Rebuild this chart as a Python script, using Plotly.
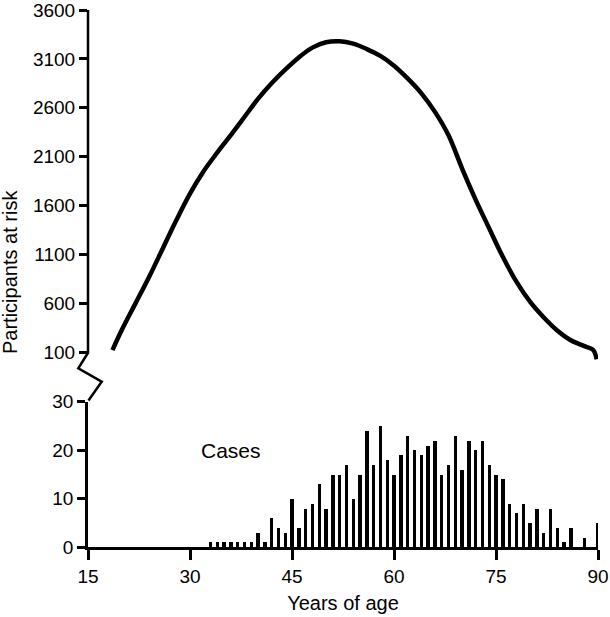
import plotly.graph_objects as go

# ---- data ----
case_years = list(range(33, 91))
case_counts = [1, 1, 1, 1, 1, 1, 1, 3, 1, 6, 4, 3, 10, 4, 8, 9, 13, 8, 15, 15,
               17, 10, 15, 24, 17, 25, 18, 15, 19, 23, 20, 19, 21, 22, 15, 17, 23, 16,
               22, 20, 22, 17, 15, 14, 9, 7, 9, 5, 8, 3, 8, 4, 1, 4, 0, 2, 0, 5]

risk_age = [18.6, 20, 22, 24, 26, 28, 30, 32, 34, 36, 38, 40, 42, 44, 46, 48, 50,
            52, 54, 56, 58, 60, 62, 64, 66, 68, 70, 72, 74, 76, 78, 80, 82, 84,
            86, 88, 89.3, 89.8]
risk_n = [120, 330, 600, 870, 1160, 1450, 1720, 1950, 2140, 2320, 2505, 2690,
          2850, 2990, 3115, 3215, 3270, 3280, 3255, 3200, 3130, 3030, 2900, 2750,
          2560, 2320, 1980, 1660, 1365, 1075, 820, 615, 455, 320, 220, 160, 120, 25]

x_ticks = [15, 30, 45, 60, 75, 90]
top_ticks = [100, 600, 1100, 1600, 2100, 2600, 3100, 3600]
bottom_ticks = [0, 10, 20, 30]

# ---- layout geometry (pixels) ----
W, H = 610, 617
ML, MR, MT, MB = 88, 12, 10, 70
PW, PH = W - ML - MR, H - MT - MB


def px(xp):
    return (xp - ML) / PW


def py(yp):
    return (H - MB - yp) / PH


top_lo_px = 362          # bottom edge of top panel (a little below the 100 line)
y100_px, y3600_px = 352, 10
per_px = (3600 - 100) / (y100_px - y3600_px)
top_range_lo = 100 - (top_lo_px - y100_px) * per_px
bottom_top_px = 401.7

font = "Liberation Sans, Arial, sans-serif"
tickfont = dict(family=font, size=19, color="black")
LW = 2.5

fig = go.Figure()
fig.add_trace(go.Bar(x=case_years, y=case_counts, width=0.5,
                     marker=dict(color="black", line=dict(width=0)),
                     xaxis="x", yaxis="y", cliponaxis=False, showlegend=False))
fig.add_trace(go.Scatter(x=risk_age, y=risk_n, mode="lines",
                         line=dict(color="black", width=4.5, shape="spline", smoothing=1.0),
                         xaxis="x", yaxis="y2", showlegend=False))

zig = [(88.5, 352), (78.3, 368.3), (101.7, 381.7), (88.5, 400.5)]
path = "M " + " L ".join(f"{px(a):.5f},{py(b):.5f}" for a, b in zig)

fig.update_layout(
    width=W, height=H,
    margin=dict(l=ML, r=MR, t=MT, b=MB, autoexpand=False),
    paper_bgcolor="white", plot_bgcolor="white",
    bargap=0,
    xaxis=dict(range=[15, 90], tickvals=x_ticks, ticks="outside", ticklen=10,
               tickwidth=LW, tickcolor="black", showline=True, linewidth=LW,
               linecolor="black", showgrid=False, zeroline=False, anchor="y",
               tickfont=tickfont, automargin=False, ticklabeloverflow="allow",
               title=dict(text="Years of age", font=dict(family=font, size=20, color="black"),
                          standoff=11)),
    yaxis=dict(domain=[0, py(bottom_top_px)], range=[0, 30], tickvals=bottom_ticks,
               ticks="outside", ticklen=8, tickwidth=LW, tickcolor="black",
               showline=True, linewidth=LW, linecolor="black", showgrid=False,
               zeroline=False, tickfont=tickfont, anchor="x", automargin=False,
               ticklabeloverflow="allow"),
    yaxis2=dict(domain=[py(top_lo_px), 1], range=[top_range_lo, 3600], tickvals=top_ticks,
                ticks="outside", ticklen=8, tickwidth=LW, tickcolor="black",
                showline=False, showgrid=False, zeroline=False, tickfont=tickfont,
                anchor="x", automargin=False, ticklabeloverflow="allow"),
    shapes=[
        dict(type="line", xref="paper", yref="y2", x0=0, x1=0, y0=100, y1=3600,
             line=dict(color="black", width=LW), layer="above"),
        dict(type="path", xref="paper", yref="paper", path=path,
             line=dict(color="black", width=LW), layer="above"),
    ],
    annotations=[
        dict(text="Participants at risk", xref="paper", yref="paper",
             x=px(10), y=py(272), xanchor="center", yanchor="middle",
             textangle=-90, showarrow=False,
             font=dict(family=font, size=20, color="black")),
        dict(text="Cases", xref="x", yref="y", x=36.1, y=20, showarrow=False,
             font=dict(family=font, size=21, color="black")),
    ],
)

fig.write_html("out.html", config={"displayModeBar": False},
               post_script="document.body.style.margin='0';document.body.style.padding='0';")
